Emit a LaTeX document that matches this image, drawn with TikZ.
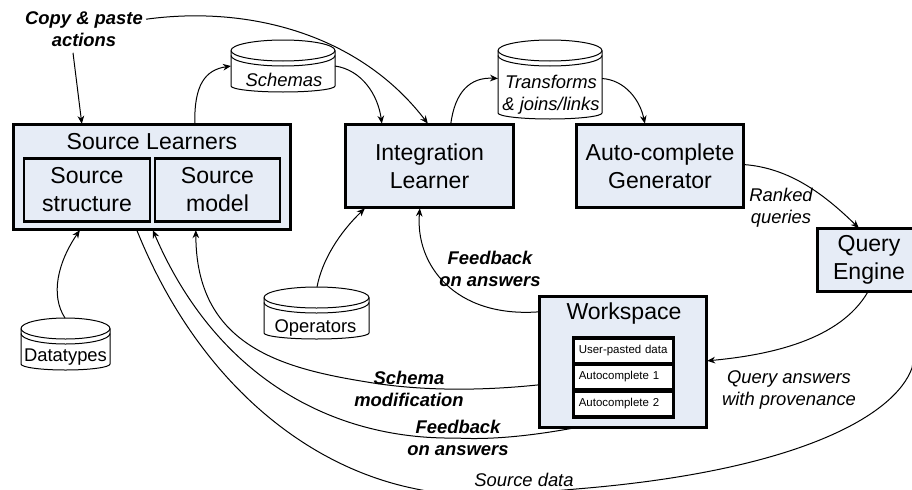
\documentclass[tikz,border=0pt]{standalone}
\usepackage{fontspec}
\setmainfont{Liberation Sans}
\usetikzlibrary{arrows.meta,calc,positioning}
\definecolor{boxfill}{RGB}{230,236,246}
\tikzset{
	bigbox/.style 2 args={draw, line width=2.6pt, fill=boxfill, align=center, outer sep=0.5pt, inner sep=0pt,
		minimum width=#1*0.75pt, minimum height=#2*0.75pt, font=\fontsize{17.3}{21}\selectfont},
	innerbox/.style 2 args={bigbox={#1}{#2}, line width=2pt},
	rowbox/.style={draw, line width=2.3pt, fill=white, align=left, inner xsep=4pt, inner ysep=0pt, text width=67pt,
		minimum height=19.5pt, font=\fontsize{8.6}{10}\selectfont},
	title/.style={inner sep=0pt, font=\fontsize{17.3}{21}\selectfont},
	disk/.style 2 args={inner sep=0pt, outer sep=0pt, minimum width=#1*0.75pt, minimum height=#2*0.75pt},
	disklabel/.style={inner sep=0pt, align=center, font=\fontsize{13.8}{16.5}\selectfont},
	note/.style={inner sep=0pt, align=center, font=\fontsize{13.8}{16.5}\selectfont\itshape},
	boldnote/.style={note, font=\fontsize{13.8}{16.5}\selectfont\bfseries\itshape},
	flow/.style={line width=0.75pt, ->, >={Stealth[length=6pt,width=5pt]}},
	plainflow/.style={line width=0.75pt}
}
\newcommand{\dbdisk}[7]{
	\node [disk={#4}{#5}] (#1) at (#2,#3) {};
	\draw [line width=0.75pt] ($(#1.north west)+(0,10.5)$) arc[start angle=180, end angle=-180, x radius=#4/2, y radius=10.5];
	\draw [line width=0.75pt] ($(#1.north west)+(0,15.5)$) arc[start angle=180, end angle=0, x radius=#4/2, y radius=10.5];
	\draw [line width=0.75pt] ($(#1.north west)+(0,10.5)$) -- ($(#1.south west)+(0,-6)$)
		arc[start angle=180, end angle=0, x radius=#4/2, y radius=6] -- ($(#1.north east)+(0,10.5)$);
	\node [disklabel] (#1-text) at ($(#1.center)+(#6)$) {#7};
}
\begin{document}
\begin{tikzpicture}[x=0.75pt,y=-0.75pt]
	\useasboundingbox (0,0) rectangle (912,489);
	\clip (0,0) rectangle (912,489);
	\node [bigbox={277}{105}] (srclearn) at (152,177) {};
	\node [title] (srctitle) at (152,142) {Source Learners};
	\node [innerbox={126}{62.5}] (srcstruct) at (87,190) {Source\\structure};
	\node [innerbox={125}{62.5}] (srcmodel) at (217.5,190) {Source\\model};
	\node [bigbox={168}{83.5}] (intlearn) at (429.5,166) {Integration\\Learner};
	\node [bigbox={167}{83.5}] (autogen) at (660,166) {Auto-complete\\Generator};
	\node [bigbox={103}{62.5}] (queryeng) at (869,260) {Query\\Engine};
	\node [bigbox={167}{131}] (workspace) at (623,362) {};
	\node [title] (wstitle) at (624,314) {Workspace};
	\node [rowbox] (rowpasted) at (623.5,351) {User-pasted data};
	\node [rowbox] (rowauto1) at (623.5,377) {Autocomplete 1};
	\node [rowbox] (rowauto2) at (623.5,404) {Autocomplete 2};
	\dbdisk{schemas}{283}{66}{104}{52}{1,14}{\textit{Schemas}}
	\dbdisk{transforms}{550}{79.5}{104}{79}{1,15.5}{\textit{Transforms}\\\textit{\& joins/links}}
	\dbdisk{operators}{316.5}{313}{105}{52}{-1,15}{Operators}
	\dbdisk{datatypes}{65.5}{344}{89}{52}{0,13}{Datatypes}
	\node [boldnote] (copypaste) at (84,29) {Copy \& paste\\actions};
	\node [note] (ranked) at (781,208) {Ranked\\queries};
	\node [boldnote] (fbinteg) at (490,269) {Feedback\\on answers};
	\node [boldnote] (schemamod) at (409,389) {Schema\\modification};
	\node [boldnote] (fbsource) at (458,438) {Feedback\\on answers};
	\node [note] (queryans) at (789,390) {Query answers\\with provenance};
	\node [note] (srcdata) at (524,480) {Source data};
	\draw [flow] ($(copypaste.north east)+(3,8)$) .. controls (250,5) and (360,35) .. ($(intlearn.north west)+(83,0)$);
	\draw [flow] ($(copypaste.south)+(-11,6)$) -- ($(srclearn.north west)+(69,0)$);
	\draw [flow] ($(srclearn.north west)+(182,0)$) .. controls (194,85) and (205,70) .. (schemas.west);
	\draw [flow] (schemas.east) .. controls (362,70) and (378,95) .. ($(intlearn.north west)+(37,0)$);
	\draw [flow] ($(intlearn.north west)+(106,0)$) .. controls (455,92) and (470,77) .. ($(transforms.west)+(0,-1)$);
	\draw [flow] ($(transforms.east)+(0,-1)$) .. controls (625,80) and (640,100) .. ($(autogen.north west)+(69,0)$);
	\draw [flow] ($(autogen.north east)+(0,41)$) .. controls (790,168) and (825,195) .. ($(queryeng.north west)+(42,0)$);
	\draw [flow] ($(queryeng.south west)+(51,0)$) .. controls (840,340) and (770,355) .. ($(workspace.north east)+(0,65)$);
	\draw [flow] ($(workspace.north west)+(0,16)$) .. controls (455,318) and (415,265) .. ($(intlearn.south west)+(75,0)$);
	\draw [flow] ($(operators.north west)+(53,0)$) .. controls (322,260) and (340,232) .. ($(intlearn.south west)+(20,0)$);
	\draw [flow] ($(datatypes.north west)+(44,0)$) .. controls (50,295) and (58,262) .. ($(srclearn.south west)+(67,0)$);
	\draw [flow] ($(workspace.north west)+(0,89)$) .. controls (480,391) and (420,391) .. (367,382)
		.. controls (280,368) and (196,345) .. ($(srclearn.south west)+(183,0)$);
	\draw [flow] ($(workspace.south west)+(34,0)$) .. controls (530,436) and (490,440) .. (456,438)
		.. controls (330,440) and (215,375) .. ($(srclearn.south west)+(140,0)$);
	\draw [plainflow] ($(queryeng.south east)+(-8,0)$) .. controls (916,320) and (916,345) .. (912,368)
		.. controls (895,415) and (800,470) .. (582,488.5) .. controls (540,492) and (465,500) .. (414,488.5)
		.. controls (300,465) and (195,375) .. ($(srclearn.south west)+(124,0)$);
\end{tikzpicture}
\end{document}
